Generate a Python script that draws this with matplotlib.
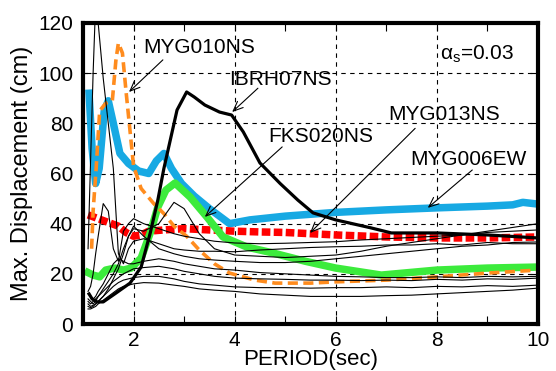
import matplotlib
matplotlib.use("Agg")
import matplotlib.pyplot as plt

plt.rcParams['font.family'] = ['Liberation Sans', 'DejaVu Sans']
plt.rcParams['mathtext.fontset'] = 'custom'
plt.rcParams['mathtext.rm'] = 'Liberation Sans'
plt.rcParams['mathtext.it'] = 'Liberation Sans:italic'

# ---- data ----
cyan_x = [1.12, 1.18, 1.25, 1.32, 1.42, 1.5, 1.6, 1.73, 1.9, 2.1, 2.3, 2.45, 2.6, 2.75, 2.95,
          3.2, 3.5, 3.9, 4.3, 5.0, 6.0, 7.0, 8.0, 9.0, 9.5, 9.7, 10.0]
cyan_y = [92, 70, 56, 62, 85, 89, 80, 68, 64, 61, 60, 65, 68, 62, 56,
          51, 46, 40, 41.5, 43, 44.5, 45.5, 46.3, 47, 47.5, 48.5, 47.8]

orange_x = [1.17, 1.2, 1.26, 1.33, 1.45, 1.58, 1.65, 1.7, 1.78, 1.85, 1.93, 2.0, 2.15, 2.4,
            2.6, 2.8, 3.05, 3.3, 3.6, 3.9, 4.4, 4.8, 5.5, 6.0, 7.0, 8.0, 9.0, 10.0]
orange_y = [30, 45, 62, 85, 88, 89, 105, 112, 108, 93, 77, 63, 54, 48,
            44, 39, 35, 29.5, 24, 20.3, 17.5, 16.3, 16.3, 16.8, 17.5, 18.8, 20.3, 21.5]

red_x = [1.1, 1.3, 1.5, 1.7, 1.85, 2.0, 2.15, 2.3, 2.6, 3.0, 3.5, 4.0, 4.5, 5.0, 5.5, 6.0,
         7.0, 8.0, 9.0, 10.0]
red_y = [43.5, 42, 40.5, 39, 36.5, 35, 35.5, 37, 37.5, 38, 37.5, 37, 36.7, 36.5, 36, 35.5,
         34.7, 34.3, 34.3, 34.7]

green_x = [1.1, 1.2, 1.33, 1.45, 1.63, 1.8, 1.95, 2.15, 2.33, 2.48, 2.64, 2.82, 3.12, 3.45,
           3.77, 4.24, 4.76, 5.4, 6.0, 6.9, 8.0, 9.0, 10.0]
green_y = [20.5, 19.5, 18.8, 21.5, 22.3, 21.5, 22.3, 26.3, 36.3, 46.6, 53.4, 56.2, 50.6, 42.7,
           34.7, 30.7, 28.3, 25, 22.3, 19.5, 21.5, 22.3, 22.7]

black_x = [1.12, 1.18, 1.28, 1.4, 1.65, 1.93, 2.15, 2.33, 2.48, 2.6, 2.86, 3.05, 3.2, 3.41,
           3.7, 3.94, 4.17, 4.5, 4.9, 5.25, 5.55, 6.0, 6.7, 7.1, 8.0, 9.0, 10.0]
black_y = [12, 10, 8.8, 8.8, 12.3, 16.3, 22.7, 36.3, 49.4, 62, 85.3, 92.5, 90.5, 87.3,
           84.5, 83.3, 76.6, 64.2, 56, 49.4, 44.3, 41.5, 38.3, 36.3, 36.3, 35.5, 34.3]

thin_x = [1.1, 1.15, 1.2, 1.25, 1.3, 1.4, 1.5, 1.6, 1.7, 1.8, 1.9, 2.0, 2.2, 2.5, 2.8, 3.0,
          3.3, 3.6, 4.0, 4.5, 5.0, 5.5, 6.0, 6.5, 7.0, 7.5, 8.0, 8.5, 9.0, 9.5, 10.0]
thin_a = [10, 9, 8, 9, 11, 14, 17, 20, 24, 30, 35, 38, 37, 40, 48.5, 46,
          36, 30, 27.5, 27, 26.5, 27, 27.5, 29, 31, 32.5, 34, 35.5, 37, 38.5, 40]
thin_b = [13, 15, 20, 28, 35, 48, 45, 30, 25, 37, 40, 42, 40, 38, 36, 35,
          34, 33, 32.3, 32, 32.2, 32.5, 32.8, 33.5, 34, 34.5, 35, 35.5, 36.5, 37, 37.5]
thin_c = [30, 65, 100, 128, 120, 98, 80, 62, 28, 24, 30, 33, 34, 32, 30, 29.5,
          29, 29, 28.8, 29.5, 30, 30.5, 30.8, 31, 31.5, 31.5, 32, 31.5, 32.5, 32, 32]
thin_d = [8, 7, 7.5, 8, 9, 11, 14, 18, 22, 28, 35, 39, 35, 30, 28, 27,
          26, 25.5, 25, 24.5, 24.5, 25, 26, 27, 28, 29, 30, 31, 31.5, 32.5, 32.7]
thin_e = [12, 11, 10, 11, 13, 16, 20, 24, 26, 25, 24, 24, 25, 26, 25, 24,
          23, 22, 21.5, 20.5, 20, 19.5, 19, 18.8, 18.5, 18.5, 18.8, 18.5, 19, 18.8, 19]
thin_f = [9, 8, 9, 10, 11, 13, 15, 17, 18.5, 20, 21, 22, 22.5, 23, 22, 21,
          20, 19, 18.3, 18, 17.8, 17.5, 17.5, 17.3, 17.5, 17.3, 17.8, 17.5, 18, 17.8, 18.3]
thin_g = [7, 6.5, 7, 8, 9, 11, 13, 15, 16.5, 17.5, 18, 18.5, 19, 19, 18, 17,
          16, 15.5, 14.8, 14.5, 14.5, 14.3, 14.5, 14.5, 14.8, 14.5, 15, 14.8, 15.3, 15, 15.5]
thin_h = [6, 6, 6.5, 7, 8, 9.5, 11, 12.5, 14, 15, 15.5, 16, 16.5, 16.3, 15.5, 15,
          14, 13.5, 13, 12, 11.5, 11, 11, 11, 11.3, 11.5, 12, 12.5, 13, 13.5, 14.3]
thin_lines = [thin_a, thin_b, thin_c, thin_d, thin_e, thin_f, thin_g, thin_h]

labels = ["MYG010NS", "IBRH07NS", "FKS020NS", "MYG013NS", "MYG006EW"]
label_pos = [(2.19, 108), (3.89, 95.3), (4.66, 72.6), (7.03, 81.3), (7.47, 63.4)]
arrow_tail = [(2.58, 105.3), (4.46, 94), (4.94, 70.6), (7.57, 78), (8.7, 61.4)]
arrow_head = [(1.91, 92.5), (3.95, 84.5), (3.41, 42.7), (5.49, 36.3), (7.82, 46.3)]

x_ticks = [2, 4, 6, 8, 10]
y_ticks = [0, 20, 40, 60, 80, 100, 120]

# ---- figure ----
fig = plt.figure(figsize=(5.56, 3.71), dpi=100)
ax = fig.add_axes([83/556, 47/371, 455/556, 301/371])

ax.plot(cyan_x, cyan_y, color='#17A9E3', lw=5.4, solid_joinstyle='round', zorder=3)
ax.plot(green_x, green_y, color='#3CEB3C', lw=5.4, solid_joinstyle='round', zorder=3.2)
ax.plot(red_x, red_y, color='#FF0000', lw=5.4, dashes=(1.15, 0.45), dash_capstyle='butt', zorder=3.1)
ax.plot(orange_x, orange_y, color='#FF8C1E', lw=2.6, dashes=(2.8, 1.5), zorder=3.3)
for t in thin_lines:
    ax.plot(thin_x, t, color='k', lw=0.8, zorder=3.5)
ax.plot(black_x, black_y, color='k', lw=2.3, zorder=3.6)

for lab, pos, tail, head in zip(labels, label_pos, arrow_tail, arrow_head):
    ax.text(pos[0], pos[1], lab, fontsize=15, ha='left', va='baseline', zorder=5)
    ax.annotate('', xy=head, xytext=tail,
                arrowprops=dict(arrowstyle='->,head_length=0.7,head_width=0.3',
                                lw=0.8, color='k', shrinkA=0, shrinkB=0), zorder=5)

ax.text(8.06, 105.5, 'α$_{\\mathregular{s}}$=0.03', fontsize=15, ha='left', va='baseline', zorder=5)

ax.set_xlim(1, 10)
ax.set_ylim(0, 120)
ax.set_xticks(x_ticks)
ax.set_xticks([3, 5, 7, 9], minor=True)
ax.set_yticks(y_ticks)
ax.tick_params(which='both', direction='in', top=True, right=True, labelsize=15)
ax.tick_params(which='major', length=6, width=0.8)
ax.tick_params(which='minor', length=6, width=0.8)
ax.tick_params(axis='x', pad=5)
ax.tick_params(axis='y', pad=7)
ax.grid(True, which='major', color='k', lw=0.8, linestyle=(0, (4, 4)))
for s in ax.spines.values():
    s.set_linewidth(3)
    s.set_zorder(6)

ax.set_xlabel('PERIOD(sec)', fontsize=16, labelpad=-1)
ax.set_ylabel('Max. Displacement (cm)', fontsize=17, labelpad=4)

fig.savefig('out.png', dpi=100)
